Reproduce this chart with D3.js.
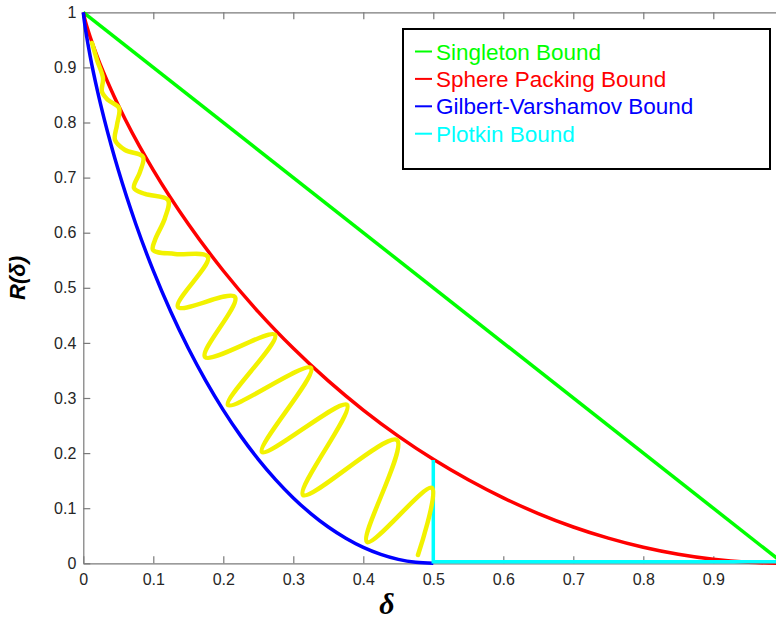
<!DOCTYPE html>
<html><head><meta charset="utf-8">
<script src="https://cdn.jsdelivr.net/npm/d3@7"></script>
<style>body{margin:0;background:#fff}svg{display:block;background:#fff}</style>
</head><body><svg id="chart" width="776" height="619"></svg>
<script>
// ---- data ----
const xTickValues = [0, 0.1, 0.2, 0.3, 0.4, 0.5, 0.6, 0.7, 0.8, 0.9, 1];
const xTickLabels = ["0", "0.1", "0.2", "0.3", "0.4", "0.5", "0.6", "0.7", "0.8", "0.9", ""];
const yTickValues = [0, 0.1, 0.2, 0.3, 0.4, 0.5, 0.6, 0.7, 0.8, 0.9, 1];
const yTickLabels = ["0", "0.1", "0.2", "0.3", "0.4", "0.5", "0.6", "0.7", "0.8", "0.9", "1"];

const seriesNames = ["Singleton Bound", "Sphere Packing Bound", "Gilbert-Varshamov Bound", "Plotkin Bound"];
const seriesColors = ["#00ff00", "#ff0000", "#0000ff", "#00ffff"];

const singletonDelta = [0, 1];
const singletonR = [1, 0];

const spherePackingDelta = [0, 0.002, 0.005, 0.01, 0.02, 0.04, 0.06, 0.08, 0.1, 0.15, 0.2, 0.25, 0.3, 0.35, 0.4, 0.45, 0.5, 0.55, 0.6, 0.65, 0.7, 0.75, 0.8, 0.85, 0.9, 0.95, 1];
const spherePackingR = [1, 0.9886, 0.9748, 0.9546, 0.9192, 0.8586, 0.8056, 0.7577, 0.7136, 0.6157, 0.5310, 0.4564, 0.3902, 0.3310, 0.2781, 0.2308, 0.1887, 0.1515, 0.1187, 0.0903, 0.0659, 0.0456, 0.0290, 0.0163, 0.0072, 0.0018, 0];

const gvDelta = [0, 0.001, 0.0025, 0.005, 0.01, 0.02, 0.03, 0.04, 0.05, 0.075, 0.1, 0.125, 0.15, 0.175, 0.2, 0.225, 0.25, 0.275, 0.3, 0.325, 0.35, 0.375, 0.4, 0.425, 0.45, 0.475, 0.5];
const gvR = [1, 0.9886, 0.9748, 0.9546, 0.9192, 0.8586, 0.8056, 0.7577, 0.7136, 0.6157, 0.5310, 0.4564, 0.3902, 0.3310, 0.2781, 0.2308, 0.1887, 0.1515, 0.1187, 0.0903, 0.0659, 0.0456, 0.0290, 0.0163, 0.0072, 0.0018, 0];

const plotkinDelta = [0.5, 0.5, 1];
const plotkinR = [0.1875, 0.003, 0.003];

const wiggleDelta = [0.0124, 0.0196, 0.0281, 0.0267, 0.0353, 0.0510, 0.0481, 0.0453, 0.0596, 0.0853, 0.0810, 0.0724, 0.0881, 0.1210, 0.1167, 0.1024, 0.0996, 0.1310, 0.1781, 0.1353, 0.2167, 0.1739, 0.2739, 0.2067, 0.3253, 0.2553, 0.3767, 0.3139, 0.4481, 0.4053, 0.4981, 0.4781];
const wiggleR = [0.9443, 0.9135, 0.8808, 0.8554, 0.8409, 0.8263, 0.7955, 0.7682, 0.7501, 0.7374, 0.7102, 0.6811, 0.6703, 0.6594, 0.6267, 0.5868, 0.5686, 0.5614, 0.5559, 0.4652, 0.4833, 0.3744, 0.4144, 0.2874, 0.3545, 0.2021, 0.2874, 0.1240, 0.2238, 0.0387, 0.1367, 0.0151];

// ---- chart ----
const svg = d3.select("#chart");
const x = d3.scaleLinear().domain([0, 1]).range([83.3, 783.3]);
const y = d3.scaleLinear().domain([0, 1]).range([563.3, 12.3]);

const axisColor = "#7a7a7a";
const labelColor = "#262626";
const tickFont = "'Liberation Sans', Arial, sans-serif";

function styleAxis(g) {
  g.select(".domain").attr("stroke", axisColor).attr("stroke-width", 1.2);
  g.selectAll(".tick line").attr("stroke", axisColor).attr("stroke-width", 1.2);
  g.selectAll(".tick text").attr("fill", labelColor).style("font-family", tickFont).style("font-size", "16px");
}

svg.append("g").attr("transform", `translate(0,${y(0)})`)
  .call(d3.axisBottom(x).tickValues(xTickValues).tickFormat((d, i) => xTickLabels[i]).tickSizeInner(-7).tickSizeOuter(0).tickPadding(10.5))
  .call(styleAxis);
svg.append("g").attr("transform", `translate(0,${y(1)})`)
  .call(d3.axisTop(x).tickValues(xTickValues).tickFormat("").tickSizeInner(-7).tickSizeOuter(0))
  .call(styleAxis);
svg.append("g").attr("transform", `translate(${x(0)},0)`)
  .call(d3.axisLeft(y).tickValues(yTickValues).tickFormat((d, i) => yTickLabels[i]).tickSizeInner(-7).tickSizeOuter(0).tickPadding(7))
  .call(styleAxis);
svg.append("g").attr("transform", `translate(${x(1)},0)`)
  .call(d3.axisRight(y).tickValues(yTickValues).tickFormat("").tickSizeInner(-7).tickSizeOuter(0))
  .call(styleAxis);

const zip = (xs, ys) => xs.map((d, i) => [d, ys[i]]);
const lineLin = d3.line().x(d => x(d[0])).y(d => y(d[1]));
const lineMono = d3.line().x(d => x(d[0])).y(d => y(d[1])).curve(d3.curveMonotoneX);
const lineCR = d3.line().x(d => x(d[0])).y(d => y(d[1])).curve(d3.curveCatmullRom.alpha(0.5));

svg.append("path").attr("d", lineLin(zip(singletonDelta, singletonR)))
  .attr("fill", "none").attr("stroke", seriesColors[0]).attr("stroke-width", 3.5);
svg.append("path").attr("d", lineMono(zip(spherePackingDelta, spherePackingR)))
  .attr("fill", "none").attr("stroke", seriesColors[1]).attr("stroke-width", 3.5);
svg.append("path").attr("d", lineMono(zip(gvDelta, gvR)))
  .attr("fill", "none").attr("stroke", seriesColors[2]).attr("stroke-width", 3.5);
svg.append("path").attr("d", lineLin(zip(plotkinDelta, plotkinR)))
  .attr("fill", "none").attr("stroke", seriesColors[3]).attr("stroke-width", 3.5);
svg.append("path").attr("d", lineCR(zip(wiggleDelta, wiggleR)))
  .attr("fill", "none").attr("stroke", "#f2f200").attr("stroke-width", 4.5)
  .attr("stroke-linecap", "round").attr("stroke-linejoin", "round");

// legend
const lg = svg.append("g");
lg.append("rect").attr("x", 403).attr("y", 29).attr("width", 367).attr("height", 140)
  .attr("fill", "#fff").attr("stroke", "#000").attr("stroke-width", 2);
seriesNames.forEach((name, i) => {
  const by = 59.5 + i * 27.4;
  lg.append("line").attr("x1", 415).attr("x2", 432).attr("y1", by - 8).attr("y2", by - 8)
    .attr("stroke", seriesColors[i]).attr("stroke-width", 2);
  lg.append("text").attr("x", 436).attr("y", by).text(name)
    .attr("fill", seriesColors[i]).style("font-family", tickFont).style("font-size", "22.5px");
});

// axis titles
svg.append("text").attr("transform", "translate(25,278) rotate(-90)").attr("text-anchor", "middle")
  .style("font-family", tickFont).style("font-size", "22px").style("font-weight", "bold").style("font-style", "italic")
  .attr("fill", "#000").text("R(δ)");
svg.append("text").attr("x", 387).attr("y", 614).attr("text-anchor", "middle")
  .style("font-family", "'Liberation Serif', 'DejaVu Serif', serif").style("font-size", "30px").style("font-weight", "bold").style("font-style", "italic")
  .attr("fill", "#000").text("δ");
</script>
</body></html>
